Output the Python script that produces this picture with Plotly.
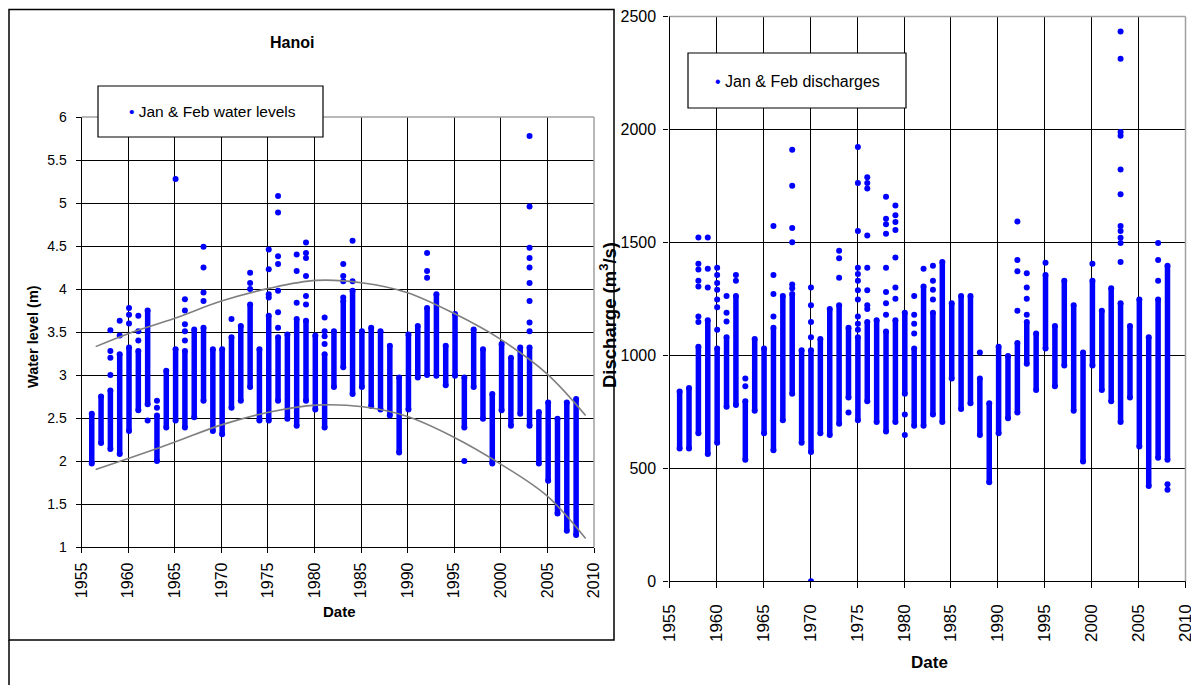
import plotly.graph_objects as go

# The page body adds an 8px margin, so the figure is drawn 8px smaller and
# screen positions are converted with the offset below.
SCREEN_W, SCREEN_H, OFFS = 1199, 685, 8
W, H = SCREEN_W - OFFS, SCREEN_H - OFFS


def px(x):
    return (x - OFFS) / W


def py(y):
    return 1 - (y - OFFS) / H


# ---------------- data ----------------
years = list(range(1956, 2009))

# Hanoi Jan & Feb water levels (m): main range per year + isolated points
wl_low = [1.97, 2.21, 2.14, 2.08, 2.35, 2.59, 2.66, 2.00, 2.39, 2.47,
          2.39, 2.51, 2.70, 2.35, 2.31, 2.62, 2.70, 2.86, 2.47, 2.47,
          2.70, 2.49, 2.41, 2.70, 2.60, 2.39, 2.86, 3.09, 2.78, 2.86,
          2.64, 2.60, 2.53, 2.10, 2.60, 2.97, 3.00, 2.99, 2.88, 2.99,
          2.39, 2.86, 2.49, 1.97, 2.59, 2.41, 2.55, 2.41, 1.97, 1.77,
          1.39, 1.19, 1.14]
wl_high = [2.55, 2.75, 2.82, 3.24, 3.32, 3.28, 3.75, 2.53, 3.05, 3.30,
           3.28, 3.53, 3.55, 3.30, 3.30, 3.44, 3.57, 3.82, 3.30, 3.69,
           3.44, 3.47, 3.65, 3.63, 3.46, 3.24, 3.51, 3.86, 3.98, 3.51,
           3.55, 3.51, 3.34, 2.97, 3.47, 3.57, 3.78, 3.94, 3.34, 3.71,
           2.97, 3.53, 3.30, 2.78, 3.36, 3.20, 3.32, 3.32, 2.57, 2.68,
           2.49, 2.68, 2.72]
wl_out_year = [1958, 1958, 1958, 1958, 1959, 1959, 1960, 1960, 1960,
               1961, 1961, 1961, 1962, 1963, 1963, 1965,
               1966, 1966, 1966, 1966, 1966, 1968, 1968, 1968, 1968,
               1971, 1973, 1973, 1973, 1975, 1975, 1975, 1975,
               1976, 1976, 1976, 1976, 1976, 1976, 1976,
               1978, 1978, 1978, 1979, 1979, 1979, 1979, 1979, 1979,
               1981, 1981, 1981, 1981, 1983, 1983, 1983, 1983, 1984, 1984,
               1992, 1992, 1992, 1996,
               2003, 2003, 2003, 2003, 2003, 2003, 2003, 2003, 2003]
wl_out_val = [3.00, 3.20, 3.28, 3.52, 3.46, 3.63, 3.60, 3.70, 3.78,
              3.40, 3.51, 3.69, 2.47, 2.62, 2.70, 5.28,
              3.40, 3.51, 3.59, 3.75, 3.88, 3.86, 3.96, 4.25, 4.49,
              3.65, 4.00, 4.07, 4.19, 3.90, 3.94, 4.23, 4.46,
              3.55, 3.73, 3.98, 4.29, 4.38, 4.89, 5.08,
              3.84, 4.21, 4.40, 3.82, 3.92, 4.15, 4.36, 4.42, 4.54,
              3.36, 3.45, 3.51, 3.67, 3.90, 4.09, 4.15, 4.29, 4.09, 4.56,
              4.13, 4.21, 4.42, 2.00,
              3.51, 3.61, 3.86, 4.07, 4.25, 4.36, 4.48, 4.96, 5.78]

# Trend curves drawn on the water-level chart
trend_year = [1956.5, 1960.0, 1965.0, 1970.0, 1975.2, 1980.2, 1985.2,
              1989.9, 1994.9, 1999.9, 2004.9, 2009.1]
trend_upper = [3.33, 3.48, 3.66, 3.86, 4.01, 4.10, 4.07, 3.96, 3.72,
               3.42, 3.02, 2.53]
trend_lower = [1.90, 2.03, 2.22, 2.42, 2.57, 2.65, 2.63, 2.52, 2.28,
               1.97, 1.60, 1.10]

# Jan & Feb discharges (m3/s): main range per year + isolated points
q_low = [588, 588, 655, 563, 613, 772, 780, 538, 755, 655,
         580, 713, 830, 613, 572, 655, 647, 697, 813, 713,
         797, 705, 663, 705, 830, 688, 688, 738, 705, 897,
         763, 788, 647, 438, 655, 722, 747, 963, 847, 1030,
         863, 955, 755, 530, 955, 847, 797, 705, 813, 597,
         422, 547, 538]
q_high = [840, 855, 1038, 1155, 1030, 1080, 1263, 797, 1072, 1030,
          1122, 1263, 1272, 1022, 1022, 1072, 1205, 1222, 1122, 1080,
          1147, 1155, 1105, 1155, 1188, 1030, 1305, 1188, 1413, 1230,
          1263, 1263, 897, 788, 1038, 997, 1055, 1147, 1097, 1355,
          1130, 1330, 1222, 1013, 1330, 1197, 1297, 1230, 1130, 1247,
          1080, 1247, 1397]
q_out_year = [1958, 1958, 1958, 1958, 1958, 1958, 1958,
              1959, 1959, 1959,
              1960, 1960, 1960, 1960, 1960, 1960, 1960,
              1961, 1961, 1961, 1962, 1962, 1963, 1963,
              1966, 1966, 1966, 1966,
              1968, 1968, 1968, 1968, 1968, 1968,
              1970, 1970, 1970, 1970, 1970,
              1973, 1973, 1973, 1974,
              1975, 1975, 1975, 1975, 1975, 1975, 1975, 1975, 1975, 1975, 1975,
              1976, 1976, 1976, 1976, 1976, 1976, 1976, 1976,
              1978, 1978, 1978, 1978, 1978, 1978, 1978, 1978,
              1979, 1979, 1979, 1979, 1979, 1979, 1979,
              1980, 1980, 1981, 1981, 1981, 1981, 1982,
              1983, 1983, 1983, 1983, 1988,
              1992, 1992, 1992, 1992, 1993, 1993, 1993, 1993,
              1995, 2000,
              2003, 2003, 2003, 2003, 2003, 2003, 2003, 2003, 2003, 2003, 2003,
              2007, 2007, 2007, 2008, 2008]
q_out_val = [1147, 1172, 1305, 1330, 1380, 1405, 1522,
             1300, 1383, 1522,
             1113, 1213, 1247, 1290, 1320, 1355, 1388,
             1150, 1188, 1263, 1330, 1355, 863, 897,
             1172, 1272, 1355, 1572,
             1297, 1313, 1500, 1563, 1750, 1910,
             0, 1080, 1147, 1222, 1300,
             1343, 1430, 1463, 747,
             1113, 1140, 1172, 1247, 1288, 1330, 1360, 1388, 1550, 1763, 1922,
             1205, 1222, 1288, 1388, 1530, 1738, 1763, 1788,
             1180, 1230, 1280, 1388, 1538, 1580, 1605, 1702,
             1250, 1300, 1433, 1555, 1590, 1620, 1663,
             647, 738, 1097, 1140, 1180, 1263, 1383,
             1247, 1290, 1330, 1397, 1013,
             1197, 1372, 1422, 1592, 1180, 1250, 1300, 1363,
             1410, 1405,
             1413, 1497, 1520, 1550, 1572, 1713, 1822, 1972, 1988, 2313, 2433,
             1330, 1422, 1497, 405, 430]

# tick labels
wl_ticks = [1, 1.5, 2, 2.5, 3, 3.5, 4, 4.5, 5, 5.5, 6]
wl_tick_text = ["1", "1.5", "2", "2.5", "3", "3.5", "4", "4.5", "5", "5.5", "6"]
q_ticks = [0, 500, 1000, 1500, 2000, 2500]
year_ticks = list(range(1955, 2011, 5))

BLUE = "#0000FF"
OFF = 0.08  # Jan-Feb position inside each year


def strips(yrs, lo, hi):
    xs, ys = [], []
    for yr, a, b in zip(yrs, lo, hi):
        xs += [yr + OFF, yr + OFF, None]
        ys += [a, b, None]
    return xs, ys


fig = go.Figure()

# ---- left chart: water levels ----
sx, sy = strips(years, wl_low, wl_high)
fig.add_trace(go.Scatter(x=sx, y=sy, mode="lines", line=dict(color=BLUE, width=5.5),
                         xaxis="x", yaxis="y", showlegend=False, hoverinfo="skip"))
fig.add_trace(go.Scatter(
    x=[y + OFF for y in years] * 2 + [y + OFF for y in wl_out_year],
    y=wl_low + wl_high + wl_out_val,
    mode="markers", marker=dict(color=BLUE, size=6, symbol="circle"),
    xaxis="x", yaxis="y", name="Jan & Feb water levels", showlegend=False))
fig.add_trace(go.Scatter(x=trend_year, y=trend_upper, mode="lines",
                         line=dict(color="#7f7f7f", width=1.6, shape="spline"),
                         xaxis="x", yaxis="y", showlegend=False))
fig.add_trace(go.Scatter(x=trend_year, y=trend_lower, mode="lines",
                         line=dict(color="#7f7f7f", width=1.6, shape="spline"),
                         xaxis="x", yaxis="y", showlegend=False))

# ---- right chart: discharges ----
sx, sy = strips(years, q_low, q_high)
fig.add_trace(go.Scatter(x=sx, y=sy, mode="lines", line=dict(color=BLUE, width=5.5),
                         xaxis="x2", yaxis="y2", showlegend=False, hoverinfo="skip"))
fig.add_trace(go.Scatter(
    x=[y + OFF for y in years] * 2 + [y + OFF for y in q_out_year],
    y=q_low + q_high + q_out_val,
    mode="markers", marker=dict(color=BLUE, size=6, symbol="circle"),
    xaxis="x2", yaxis="y2", name="Jan & Feb discharges", showlegend=False))

FONT = "Liberation Sans, Arial, sans-serif"
BOLD = "Liberation Sans Narrow, Liberation Sans, Arial, sans-serif"

common_x = dict(range=[1955, 2010], tickmode="array", tickvals=year_ticks,
                tickangle=-90, showgrid=True, gridcolor="#000", gridwidth=1,
                showline=True, linecolor="#000", linewidth=1.3, ticks="outside",
                tickcolor="#000", zeroline=False, automargin=False)
common_y = dict(showgrid=True, gridcolor="#000", gridwidth=1, showline=True,
                linecolor="#000", linewidth=1.3, ticks="outside", tickcolor="#000",
                zeroline=False, automargin=False)

fig.update_layout(
    width=W, height=H, autosize=False,
    margin=dict(l=0, r=0, t=0, b=0, pad=0, autoexpand=False),
    paper_bgcolor="white", plot_bgcolor="white",
    xaxis=dict(domain=[px(81.7), px(594)], anchor="y", ticklen=5,
               ticklabelstandoff=3, tickfont=dict(family=FONT, size=16, color="#000"),
               **common_x),
    yaxis=dict(domain=[py(547), py(117)], anchor="x", range=[1, 6],
               tickmode="array", tickvals=wl_ticks, ticktext=wl_tick_text,
               ticklen=5, ticklabelstandoff=6,
               tickfont=dict(family=FONT, size=14, color="#000"), **common_y),
    xaxis2=dict(domain=[px(669.5), px(1185.5)], anchor="y2", ticklen=6,
                ticklabelstandoff=9, tickfont=dict(family=FONT, size=17, color="#000"),
                **common_x),
    yaxis2=dict(domain=[py(581.3), py(16.4)], anchor="x2", range=[0, 2500],
                tickmode="array", tickvals=q_ticks, ticklen=5, ticklabelstandoff=4,
                tickfont=dict(family=FONT, size=16, color="#000"), **common_y),
)

shapes = []
# gray top/right borders of the plot areas
for xr, yr in (("x domain", "y domain"), ("x2 domain", "y2 domain")):
    shapes.append(dict(type="line", xref=xr, yref=yr, x0=0, x1=1, y0=1, y1=1,
                       line=dict(color="#a0a0a0", width=1.5)))
    shapes.append(dict(type="line", xref=xr, yref=yr, x0=1, x1=1, y0=0, y1=1,
                       line=dict(color="#a0a0a0", width=1.5)))
# outer frame of the left chart
shapes.append(dict(type="rect", xref="paper", yref="paper", x0=px(9), x1=px(614),
                   y0=py(640), y1=py(9.5), line=dict(color="#000", width=1.5)))
shapes.append(dict(type="line", xref="paper", yref="paper", x0=px(9), x1=px(9),
                   y0=0, y1=py(640), line=dict(color="#000", width=1.5)))
# legend boxes
shapes.append(dict(type="rect", xref="paper", yref="paper", x0=px(98), x1=px(323),
                   y0=py(137), y1=py(86), fillcolor="white",
                   line=dict(color="#000", width=1.2)))
shapes.append(dict(type="rect", xref="paper", yref="paper", x0=px(688), x1=px(906),
                   y0=py(108), y1=py(53), fillcolor="white",
                   line=dict(color="#000", width=1.2)))
fig.update_layout(shapes=shapes)

dot = '<span style="color:#0000FF">•</span> '
C = dict(xref="paper", yref="paper", showarrow=False, xanchor="center",
         yanchor="middle")
ann = [
    dict(text="<b>Hanoi</b>", x=px(292), y=py(43),
         font=dict(family=BOLD, size=16, color="#000"), **C),
    dict(text=dot + "Jan &amp; Feb water levels", x=px(212), y=py(112),
         font=dict(family=FONT, size=15.5, color="#000"), **C),
    dict(text=dot + "Jan &amp; Feb discharges", x=px(797), y=py(82),
         font=dict(family=FONT, size=16, color="#000"), **C),
    dict(text="<b>Water level (m)</b>", x=px(33), y=py(337), textangle=-90,
         font=dict(family=BOLD, size=14.5, color="#000"), **C),
    dict(text="<b>Discharge (m<sup>3</sup>/s)</b>", x=px(608), y=py(315),
         textangle=-90, font=dict(family=BOLD, size=18.5, color="#000"), **C),
    dict(text="<b>Date</b>", x=px(339), y=py(611),
         font=dict(family=BOLD, size=15, color="#000"), **C),
    dict(text="<b>Date</b>", x=px(929), y=py(662),
         font=dict(family=BOLD, size=17, color="#000"), **C),
]
fig.update_layout(annotations=ann)

fig.write_html("out.html")
